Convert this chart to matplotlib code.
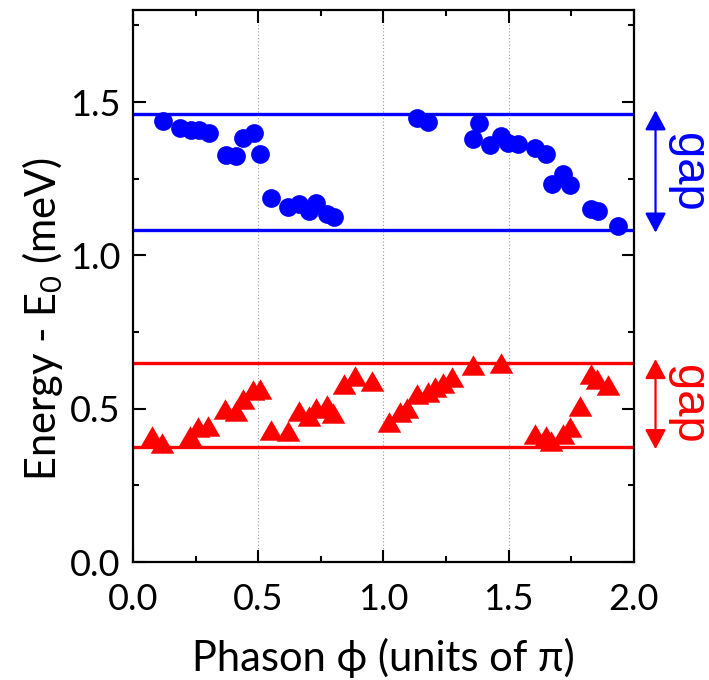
import matplotlib
matplotlib.use("Agg")
import matplotlib.pyplot as plt
from matplotlib.ticker import MultipleLocator

plt.rcParams['font.family'] = ['Lato', 'DejaVu Sans']
plt.rcParams['mathtext.fontset'] = 'custom'
plt.rcParams['mathtext.rm'] = 'Lato'
plt.rcParams['mathtext.default'] = 'regular'

# upper band (circles)
upper_phi = [0.120, 0.189, 0.232, 0.262, 0.302, 0.371, 0.412, 0.439, 0.484, 0.508,
             0.551, 0.618, 0.663, 0.703, 0.731, 0.774, 0.804,
             1.132, 1.176, 1.382, 1.358, 1.424, 1.468, 1.497, 1.536, 1.606, 1.647,
             1.674, 1.716, 1.743, 1.827, 1.856, 1.938]
upper_E = [1.437, 1.414, 1.410, 1.410, 1.399, 1.327, 1.325, 1.382, 1.400, 1.332,
           1.186, 1.158, 1.169, 1.144, 1.170, 1.135, 1.125,
           1.447, 1.435, 1.430, 1.379, 1.360, 1.390, 1.366, 1.363, 1.349, 1.329,
           1.232, 1.264, 1.229, 1.150, 1.145, 1.096]

# lower band (triangles)
lower_phi = [0.076, 0.116, 0.229, 0.258, 0.299, 0.369, 0.412, 0.439, 0.479, 0.508,
             0.551, 0.618, 0.663, 0.704, 0.731, 0.774, 0.800, 0.844, 0.886, 0.955,
             1.023, 1.066, 1.092, 1.135, 1.179, 1.205, 1.238, 1.272, 1.358, 1.468,
             1.604, 1.647, 1.670, 1.716, 1.746, 1.785, 1.827, 1.852, 1.896]
lower_E = [0.411, 0.389, 0.411, 0.439, 0.442, 0.500, 0.491, 0.532, 0.560, 0.565,
           0.431, 0.428, 0.491, 0.477, 0.502, 0.513, 0.486, 0.581, 0.608, 0.589,
           0.458, 0.488, 0.502, 0.548, 0.553, 0.570, 0.584, 0.604, 0.644, 0.649,
           0.418, 0.410, 0.393, 0.418, 0.440, 0.508, 0.614, 0.597, 0.578]

# gap edges
upper_gap = (1.082, 1.461)
lower_gap = (0.376, 0.650)

BLUE = '#0000ff'
RED = '#ff0000'

fig = plt.figure(figsize=(7.09, 6.80), dpi=100)
ax = fig.add_axes([0.1876, 0.1735, 0.7066, 0.8118])

ax.set_xlim(0, 2.0)
ax.set_ylim(0, 1.8)

for v in [0.5, 1.0, 1.5]:
    ax.axvline(v, color='#999999', lw=0.8, ls=(0, (1, 2)), zorder=0)

for y in upper_gap:
    ax.axhline(y, color=BLUE, lw=2.4, zorder=2)
for y in lower_gap:
    ax.axhline(y, color=RED, lw=2.4, zorder=2)

ax.plot(upper_phi, upper_E, 'o', color=BLUE, ms=13.5, mec='none', zorder=3, clip_on=False)
tri = [(-1.0, -0.866), (1.0, -0.866), (0.0, 0.866)]
ax.plot(lower_phi, lower_E, ls='none', marker=tri, color=RED, ms=17, mec='none',
        zorder=3, clip_on=False)

# gap arrows and labels on the right
for (lo, hi), col in [(upper_gap, BLUE), (lower_gap, RED)]:
    ax.annotate('', xy=(1.043, hi + 0.012), xytext=(1.043, lo - 0.008),
                xycoords=('axes fraction', 'data'), textcoords=('axes fraction', 'data'),
                arrowprops=dict(arrowstyle='<|-|>,head_length=0.6,head_width=0.32',
                                mutation_scale=20, color=col, lw=1.6,
                                shrinkA=0, shrinkB=0),
                annotation_clip=False)
    ax.text(1.108, (lo + hi) / 2, 'gap', color=col, fontsize=34, rotation=-90,
            ha='center', va='center', family='Liberation Sans',
            transform=ax.get_yaxis_transform(), clip_on=False)

ax.xaxis.set_minor_locator(MultipleLocator(0.25))
ax.yaxis.set_minor_locator(MultipleLocator(0.25))
ax.set_xticks([0.0, 0.5, 1.0, 1.5, 2.0])
ax.set_yticks([0.0, 0.5, 1.0, 1.5])
ax.set_xticklabels(['0.0', '0.5', '1.0', '1.5', '2.0'])
ax.set_yticklabels(['0.0', '0.5', '1.0', '1.5'])

ax.tick_params(which='both', direction='in', top=True, right=True, width=1.5,
               labelsize=26)
ax.tick_params(axis='x', pad=15)
ax.tick_params(axis='y', pad=9)
ax.tick_params(which='major', length=9)
ax.tick_params(which='minor', length=4)
for s in ax.spines.values():
    s.set_linewidth(1.6)

ax.set_xlabel('Phason \u03d5 (units of \u03c0)', fontsize=30)
ax.set_ylabel(r'Energy - E$_{0}$ (meV)', fontsize=30)
ax.xaxis.set_label_coords(0.5, -0.138)
ax.yaxis.set_label_coords(-0.135, 0.44)

fig.savefig('out.png', dpi=100)
